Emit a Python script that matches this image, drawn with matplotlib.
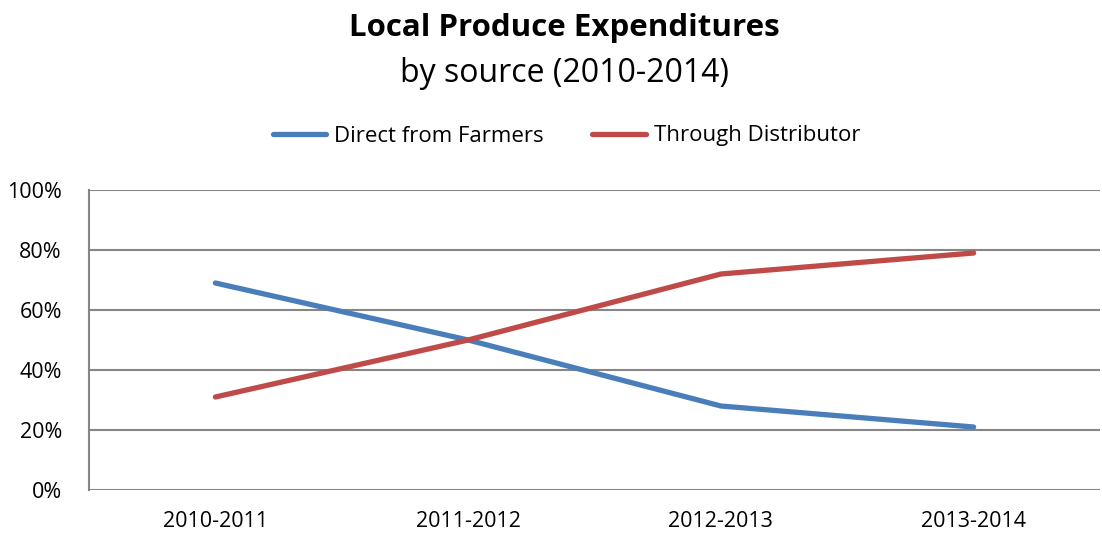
import matplotlib
matplotlib.use("Agg")
import matplotlib.pyplot as plt
from matplotlib.ticker import PercentFormatter

categories = ["2010-2011", "2011-2012", "2012-2013", "2013-2014"]
direct = [69, 50, 28, 21]
distributor = [31, 50, 72, 79]
series_names = ["Direct from Farmers", "Through Distributor"]
y_ticks = [0, 20, 40, 60, 80, 100]

plt.rcParams['font.family'] = ['Open Sans', 'DejaVu Sans']

W, H = 1102, 537
fig = plt.figure(figsize=(W / 100, H / 100), dpi=100)
ax = fig.add_axes([89 / W, (H - 490) / H, (1100 - 89) / W, 300 / H])

x = list(range(len(categories)))
ax.plot(x, direct, color="#4A7EBB", lw=3.8, solid_capstyle="round", label=series_names[0], zorder=3)
ax.plot(x, distributor, color="#BE4B48", lw=3.8, solid_capstyle="round", label=series_names[1], zorder=3)

ax.set_xlim(-0.5, 3.5)
ax.set_ylim(0, 100)
ax.set_xticks(x)
ax.set_xticklabels(categories)
ax.set_yticks(y_ticks)
ax.yaxis.set_major_formatter(PercentFormatter(decimals=0))
ax.tick_params(axis="both", length=0, labelsize=15.5, colors="black")
ax.tick_params(axis="y", pad=19.5)
ax.tick_params(axis="x", pad=15)
ax.grid(axis="y", color="#868686", lw=1.5)
ax.set_axisbelow(True)
for s in ["top", "right", "bottom"]:
    ax.spines[s].set_visible(False)
ax.spines["left"].set_color("#868686")
ax.spines["left"].set_linewidth(1.5)

fig.text(0.512, 1 - 28 / H, "Local Produce Expenditures", ha="center", va="center",
         fontsize=22.5, fontweight="bold")
fig.text(0.512, 1 - 73 / H, "by source (2010-2014)", ha="center", va="center", fontsize=23)

fig.legend(loc="center", bbox_to_anchor=(0.514, 1 - 136 / H), ncol=2, frameon=False,
           fontsize=16, handlelength=2.4, handletextpad=0.36, columnspacing=2.2)

fig.savefig("out.png", dpi=100)
